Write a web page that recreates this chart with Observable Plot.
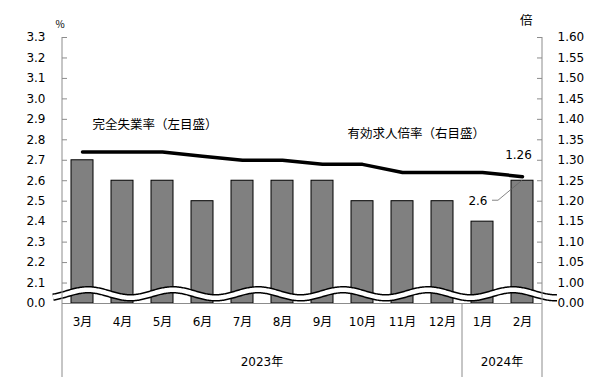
<!DOCTYPE html>
<html><head><meta charset="utf-8">
<script src="https://cdn.jsdelivr.net/npm/d3@7"></script>
<script src="https://cdn.jsdelivr.net/npm/@observablehq/plot@0.6"></script>
<style>body{margin:0;background:#fff}</style>
</head><body><div id="chart"></div>
<script>
const months = ["3月","4月","5月","6月","7月","8月","9月","10月","11月","12月","1月","2月"];
const unemployment = [2.7,2.6,2.6,2.5,2.6,2.6,2.6,2.5,2.5,2.5,2.4,2.6];
const jobRatio = [1.32,1.32,1.32,1.31,1.30,1.30,1.29,1.29,1.27,1.27,1.27,1.26];
const leftTicks = [2.1,2.2,2.3,2.4,2.5,2.6,2.7,2.8,2.9,3.0,3.1,3.2,3.3];
const rightTickValues = [1.00,1.05,1.10,1.15,1.20,1.25,1.30,1.35,1.40,1.45,1.50,1.55,1.60];
const years = [{label:"2023年", first:"3月", last:"12月"},{label:"2024年", first:"1月", last:"2月"}];
const seriesLabels = ["完全失業率（左目盛）","有効求人倍率（右目盛）"];

const data = months.map((m,i)=>({month:m, unemployment:unemployment[i], ratio:jobRatio[i]}));
// map right-axis value (倍) onto the left scale: 1.00 ↔ 2.1, 1.60 ↔ 3.3
const toLeft = r => 2.1 + (r - 1.0) * 2;
// axis break: 0 … 2.1 is squeezed into one tick step (0 sits where 2.0 would be)
const breakT = v => v < 2.1 ? 2.0 + (v / 2.1) * 0.1 : v;
const last = data[data.length-1];
const FONT = "DejaVu Sans, Noto Sans CJK JP, sans-serif";
const CJK = "Noto Sans CJK JP, sans-serif";

const W=607, H=382, mL=62, mR=65, mT=37, mB=79;

const plot = Plot.plot({
  width: W, height: H, marginLeft: mL, marginRight: mR, marginTop: mT, marginBottom: mB,
  style: {fontFamily: FONT, fontSize: "12px", color: "#000", background: "#fff", overflow: "visible"},
  x: {domain: months, paddingInner: 0.45, paddingOuter: 0.225, axis: null},
  y: {type: "linear", transform: breakT, domain: [2.0, 3.3], axis: null},
  marks: [
    Plot.barY(data, {x: "month", y1: 0, y2: "unemployment", fill: "#808080", stroke: "#000", strokeWidth: 1}),
    Plot.ruleY([0], {stroke: "#8c8c8c"}),
    Plot.ruleY(leftTicks, {stroke: "#8c8c8c", insetRight: W - mL - mR - 5}),
    Plot.ruleY(rightTickValues.map(toLeft), {stroke: "#8c8c8c", insetLeft: W - mL - mR - 5}),
    Plot.text([0, ...leftTicks], {y: d => d, text: d => d.toFixed(1), frameAnchor: "left", dx: -17, textAnchor: "end", fontFamily: FONT, fontSize: 12}),
    Plot.text([0, ...rightTickValues], {y: d => d === 0 ? 0 : toLeft(d), text: d => d.toFixed(2), frameAnchor: "right", dx: 15, textAnchor: "start", fontFamily: FONT, fontSize: 12}),
    Plot.line(data, {x: "month", y: d => toLeft(d.ratio), stroke: "#000", strokeWidth: 3.5}),
    Plot.text(data, {x: "month", text: "month", frameAnchor: "bottom", dy: 22, fontFamily: FONT, fontSize: 12}),
    Plot.text(["%"], {frameAnchor: "top-left", dx: -7, dy: -17, fontFamily: CJK, fontSize: 10}),
    Plot.text(["倍"], {frameAnchor: "top-right", dx: -10, dy: -21, fontFamily: CJK, fontSize: 12.5}),
    Plot.text([seriesLabels[0]], {x: ["3月"], y: [2.87], textAnchor: "start", dx: 10, fontFamily: CJK, fontSize: 12.5}),
    Plot.text([seriesLabels[1]], {x: ["10月"], y: [2.83], textAnchor: "start", dx: -15, fontFamily: CJK, fontSize: 12.5}),
    Plot.text([last], {x: "month", y: d => toLeft(d.ratio), text: d => d.ratio.toFixed(2), dx: -4, dy: -21, fontFamily: FONT, fontSize: 12}),
    Plot.text([last], {x: "month", y: "unemployment", text: d => d.unemployment.toFixed(1), textAnchor: "end", dx: -35, dy: 20, fontFamily: FONT, fontSize: 12})
  ]
});

document.getElementById("chart").appendChild(plot);

// decorations using the plot's scales
const xs = plot.scale("x"), ys = plot.scale("y");
const bw = xs.bandwidth, step = xs.step;
const [r0, r1] = xs.range;
const center = m => xs.apply(m) + bw / 2;
const groupStart = m => months.indexOf(m) === 0 ? r0 : xs.apply(m) - (step - bw) / 2;
const groupEnd = m => months.indexOf(m) === months.length - 1 ? r1 : xs.apply(m) + bw + (step - bw) / 2;
const svg = d3.select(plot);
const yBase = ys.range[0], yTop = ys.range[1], yBottom = H - 5;
const g = svg.append("g");

// break wave
const yMid = (yBase + ys.apply(2.1)) / 2 + 1;
const wavePts = d3.range(r0 - 9, r1 + 16, 1).map(x => [x, yMid - 4 * Math.cos(2 * Math.PI * (x - 88) / 85)]);
const wl = d3.line();
g.append("path").attr("d", wl(wavePts)).attr("fill", "none").attr("stroke", "#000").attr("stroke-width", 7.5);
g.append("path").attr("d", wl(wavePts)).attr("fill", "none").attr("stroke", "#fff").attr("stroke-width", 4.5);

// frame verticals
[r0, r1].forEach(x => g.append("line").attr("x1", x).attr("x2", x).attr("y1", yTop).attr("y2", yBottom).attr("stroke", "#8c8c8c"));
years.slice(1).forEach(y => { const x = groupStart(y.first);
  g.append("line").attr("x1", x).attr("x2", x).attr("y1", yBase).attr("y2", yBottom).attr("stroke", "#8c8c8c"); });

// year labels
years.forEach(y => {
  g.append("text").attr("x", (groupStart(y.first) + groupEnd(y.last)) / 2).attr("y", yBase + 59)
    .attr("text-anchor", "middle").attr("dominant-baseline", "middle")
    .attr("font-family", FONT).attr("font-size", 12).text(y.label);
});

// leader line for 2.6 label
const lx = center(last.month), ly = ys.apply(last.unemployment);
g.append("path").attr("d", d3.line()([[lx - 30, ly + 20], [lx - 24, ly + 20], [lx, ly]]))
  .attr("fill", "none").attr("stroke", "#666").attr("stroke-width", 0.8);
</script>
</body></html>
